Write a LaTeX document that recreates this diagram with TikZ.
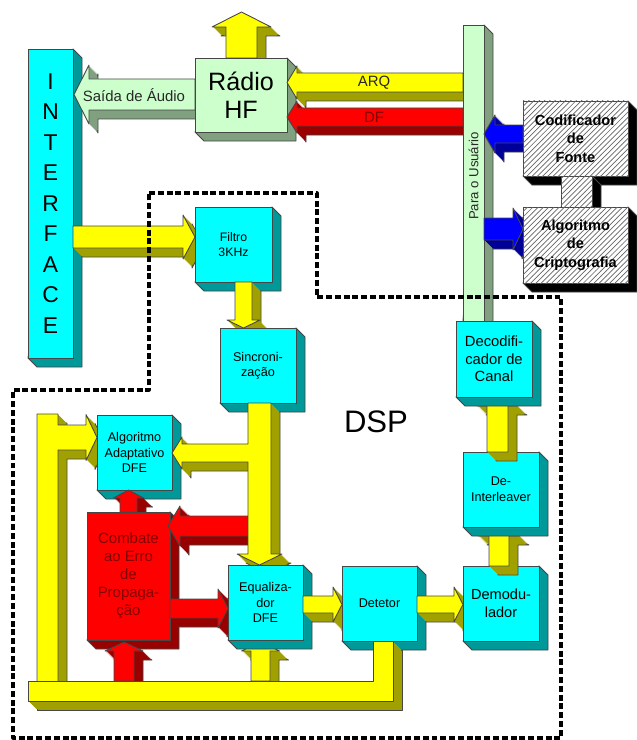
\documentclass[tikz,border=0pt]{standalone}
\usepackage{fontspec}
\setmainfont{Liberation Sans}
\usetikzlibrary{patterns}

\definecolor{cyface}{RGB}{0,255,255}
\definecolor{cyside}{RGB}{0,153,153}
\definecolor{ylface}{RGB}{255,255,0}
\definecolor{ylside}{RGB}{160,160,0}
\definecolor{rdface}{RGB}{255,0,0}
\definecolor{rdside}{RGB}{153,0,0}
\definecolor{gnface}{RGB}{204,255,204}
\definecolor{gnside}{RGB}{128,160,128}
\definecolor{blface}{RGB}{0,0,255}
\definecolor{blside}{RGB}{0,0,153}
\definecolor{htface}{RGB}{255,255,255}
\definecolor{htside}{RGB}{0,0,0}
\definecolor{edge}{RGB}{70,70,70}
\definecolor{darktxt}{RGB}{40,40,40}
\definecolor{redtxt}{RGB}{128,0,0}

\def\dep{9}
% extruded flat shape (arrows, bars): face colour, side colour, outline
\newcommand{\extrude}[3]{%
  \filldraw[fill=#2, draw=edge, shift={(\dep,\dep)}] #3 -- cycle;
  \foreach \s in {1,...,8} \fill[#2, shift={(\s,\s)}] #3 -- cycle;
  \filldraw[fill=#1, draw=edge] #3 -- cycle;
}
% block: name, x1, y1, x2, y2, colour prefix, node options, text
\newcommand{\blockcube}[8]{%
  \filldraw[fill=#6side, draw=edge] (#4,#3) -- ({#4+\dep},{#3+\dep}) -- ({#4+\dep},{#5+\dep}) -- ({#2+\dep},{#5+\dep}) -- (#2,#5) -- cycle;
  \node[box, fill=#6face, minimum width={(#4-#2)*0.02cm}, minimum height={(#5-#3)*0.02cm}, anchor=north west, #7] (#1) at (#2,#3) {#8};
}

\tikzset{
  box/.style={draw=edge, inner sep=0pt, outer sep=0pt, align=center, font=\fontsize{7.2}{8.8}\selectfont},
  hatch/.style={postaction={pattern=north east lines, pattern color=black!60}},
  lbl/.style={inner sep=0pt, font=\fontsize{8.5}{10}\selectfont},
  dspline/.style={line width=1.8pt, dash pattern=on 3.4pt off 1.6pt},
}

\begin{document}
\begin{tikzpicture}[x=0.02cm, y=-0.02cm, line join=round, line width=0.5pt]
  %%%%% START %%%%%
  \useasboundingbox (0,0) rectangle (636,740);

  % interface, radio and user side
  \blockcube{interface}{28}{49}{73}{358}{cy}{font=\fontsize{13}{17.35}\selectfont}{I\\N\\T\\E\\R\\F\\A\\C\\E}
  \extrude{ylface}{ylside}{(73,226) -- (183,226) -- (183,215) -- (195,237) -- (183,259) -- (183,248) -- (73,248)}
  \extrude{gnface}{gnside}{(195,79) -- (89,79) -- (89,65) -- (74,94.5) -- (89,124) -- (89,110) -- (195,110)}
  \node[lbl, text=darktxt] (saida) at (134,95) {Saída de Áudio};
  \extrude{ylface}{ylside}{(226,58) -- (226,27) -- (212,27) -- (241.5,12) -- (271,27) -- (257,27) -- (257,58)}
  \blockcube{radio}{195}{58}{287}{132}{gn}{font=\fontsize{14.3}{16}\selectfont}{Rádio\\HF}

  \extrude{ylface}{ylside}{(463,73) -- (297,73) -- (297,66) -- (287,82.5) -- (297,99) -- (297,92) -- (463,92)}
  \node[lbl, text=darktxt] (arq) at (374,82.5) {ARQ};
  \extrude{rdface}{rdside}{(463,108) -- (297,108) -- (297,101) -- (287,117) -- (297,133) -- (297,126) -- (463,126)}
  \node[lbl, text=redtxt] (df) at (374,117) {DF};

  \blockcube{usuario}{463}{25}{484}{321}{gn}{}{}
  \node[lbl, rotate=90, text=darktxt, font=\fontsize{7.5}{9}\selectfont] (usuariotxt) at (473.5,176) {Para o Usuário};

  \extrude{blface}{blside}{(523,125) -- (495,125) -- (495,115) -- (484,134) -- (495,153) -- (495,143) -- (523,143)}
  \extrude{blface}{blside}{(484,218) -- (513,218) -- (513,208) -- (523,229) -- (513,250) -- (513,240) -- (484,240)}
  \blockcube{fonte}{523}{101}{628}{176}{ht}{hatch, font=\fontsize{8.3}{10.5}\selectfont\bfseries}{Codificador\\de\\Fonte}
  \blockcube{elo}{561}{176}{592}{207}{ht}{hatch}{}
  \blockcube{cripto}{523}{207}{628}{283}{ht}{hatch, font=\fontsize{8.3}{10.5}\selectfont\bfseries}{Algoritmo\\de\\Criptografia}

  % dsp chain
  \blockcube{filtro}{195}{207}{272}{282}{cy}{font=\fontsize{7}{8.5}\selectfont}{Filtro\\3KHz}
  \extrude{ylface}{ylside}{(235,282) -- (235,320) -- (227,320) -- (243.5,328) -- (260,320) -- (252,320) -- (252,282)}
  \blockcube{sinc}{220}{328}{296}{403}{cy}{}{Sincroni-\\zação}

  \extrude{ylface}{ylside}{(37,414) -- (58,414) -- (58,425) -- (86,425) -- (86,414.5) -- (97,437.5) -- (86,460.5) -- (86,450) -- (58,450) -- (58,690) -- (37,690)}
  \blockcube{adapt}{97}{415}{172}{490}{cy}{}{Algoritmo\\Adaptativo\\DFE}
  \extrude{rdface}{rdside}{(120,512) -- (120,498) -- (113.5,498) -- (128.5,490) -- (143.5,498) -- (137,498) -- (137,512)}
  \blockcube{combate}{87}{512}{170}{640}{rd}{text=redtxt, font=\fontsize{8.5}{10.2}\selectfont}{Combate\\ao Erro\\de\\Propaga-\\ção}
  \extrude{rdface}{rdside}{(248,516) -- (180,516) -- (180,506) -- (168,526) -- (180,546) -- (180,536) -- (248,536)}
  \extrude{ylface}{ylside}{(248,403) -- (271,403) -- (271,554) -- (282,554) -- (259.5,565) -- (237,554) -- (248,554) -- (248,462) -- (182,462) -- (182,469) -- (172,453) -- (182,437) -- (182,444) -- (248,444)}
  \extrude{rdface}{rdside}{(170,599) -- (218,599) -- (218,589) -- (228,608.5) -- (218,628) -- (218,618) -- (170,618)}
  \extrude{rdface}{rdside}{(114,681) -- (114,651) -- (105,651) -- (124,642) -- (143,651) -- (134,651) -- (134,681)}
  \extrude{ylface}{ylside}{(251,681) -- (251,651) -- (241.5,651) -- (260.5,642) -- (279.5,651) -- (270,651) -- (270,681)}

  \blockcube{equal}{228}{565}{303}{640}{cy}{}{Equaliza-\\dor\\DFE}
  \extrude{ylface}{ylside}{(303,596) -- (333,596) -- (333,587) -- (342,604.5) -- (333,622) -- (333,613) -- (303,613)}
  \blockcube{detetor}{342}{566}{417}{641}{cy}{}{Detetor}
  \extrude{ylface}{ylside}{(417,596) -- (454,596) -- (454,587) -- (463,604.5) -- (454,622) -- (454,613) -- (417,613)}
  \extrude{ylface}{ylside}{(28,681) -- (373,681) -- (373,641) -- (393,641) -- (393,701) -- (28,701)}
  \blockcube{demod}{463}{566}{539}{641}{cy}{font=\fontsize{8.3}{10.5}\selectfont}{Demodu-\\lador}

  \extrude{ylface}{ylside}{(489,566) -- (489,536) -- (478,536) -- (499,527) -- (520,536) -- (509,536) -- (509,566)}
  \blockcube{deint}{463}{452}{539}{527}{cy}{font=\fontsize{7.2}{9}\selectfont}{De-\\Interleaver}
  \extrude{ylface}{ylside}{(487,452) -- (487,406) -- (477,406) -- (497.5,397) -- (518,406) -- (508,406) -- (508,452)}
  \blockcube{decod}{456}{321}{532}{397}{cy}{font=\fontsize{8.4}{10}\selectfont}{Decodifi-\\cador de\\Canal}

  \node[inner sep=0pt, font=\fontsize{17.7}{20}\selectfont] (dsp) at (376,422) {DSP};
  \draw[dspline] (149,193) -- (317,193) -- (317,297) -- (561,297) -- (561,738) -- (13,738) -- (13,390) -- (149,390) -- cycle;

  %%%%% END %%%%%
\end{tikzpicture}
\end{document}
